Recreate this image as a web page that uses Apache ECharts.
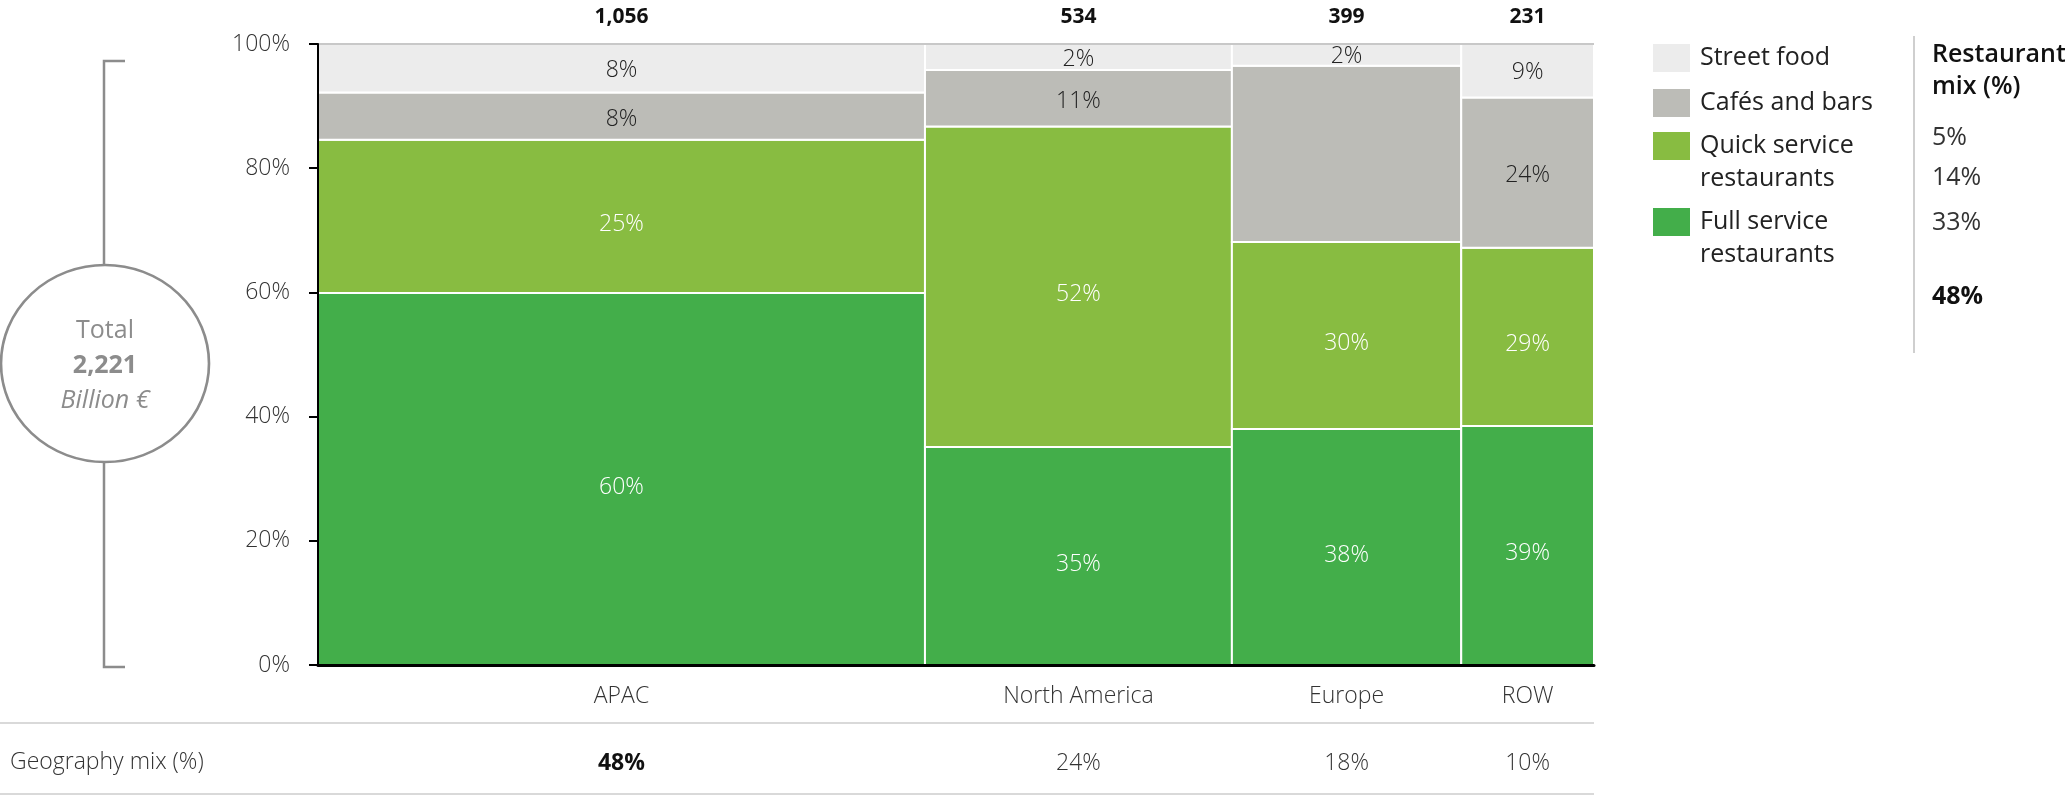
<!DOCTYPE html>
<html>
<head>
<meta charset="utf-8">
<script src="https://cdn.jsdelivr.net/npm/echarts@6/dist/echarts.min.js"></script>
<style>
html,body{margin:0;padding:0;background:#fff;}
#chart{width:2065px;height:795px;}
</style>
</head>
<body>
<div id="chart"></div>
<script>
// ---------- data ----------
const categories = ['APAC', 'North America', 'Europe', 'ROW'];
const totals = [1056, 534, 399, 231];           // billion €
const grandTotal = '2,221';
const geographyMix = [48, 24, 18, 10];           // %
const segmentNames = ['Full service restaurants', 'Quick service restaurants', 'Cafés and bars', 'Street food'];
const legendNames = ['Street food', 'Cafés and bars', 'Quick service\nrestaurants', 'Full service\nrestaurants'];
// segment shares (% of column) as drawn
const fullService  = [59.9, 35.1, 38.0, 38.5];
const quickService = [24.7, 51.6, 30.1, 28.7];
const cafesBars    = [7.6, 9.1, 28.4, 24.2];
const streetFood   = [7.8, 4.2, 3.5, 8.6];
// printed segment labels
const fullServiceLabel  = [60, 35, 38, 39];
const quickServiceLabel = [25, 52, 30, 29];
const cafesBarsLabel    = [8, 11, null, 24];
const streetFoodLabel   = [8, 2, 2, 9];
const restaurantMix = [5, 14, 33, 48];            // %
const yTicks = [0, 20, 40, 60, 80, 100];

// ---------- styling ----------
const FONT = '"Open Sans", "Noto Sans", sans-serif';
const segColors = ['#43ae4a', '#88bc41', '#bcbcb7', '#ececec'];
const segTextColors = ['#ffffff', '#ffffff', '#222222', '#222222'];
const segLabelShift = [8, 8, 3, 2];
const segHeights = [fullService, quickService, cafesBars, streetFood];
const segLabels = [fullServiceLabel, quickServiceLabel, cafesBarsLabel, streetFoodLabel];

const sumTotals = totals.reduce((a, b) => a + b, 0);
const colData = [];
let acc = 0;
totals.forEach((t, i) => { colData.push([acc, acc + t, i]); acc += t; });

const chart = echarts.init(document.getElementById('chart'), null, {renderer: 'canvas'});

function renderColumn(params, api) {
  const x0 = api.value(0), x1 = api.value(1), i = api.value(2);
  const children = [];
  let base = 0;
  for (let j = 0; j < 4; j++) {
    const h = segHeights[j][i];
    const top = Math.min(100, base + h);
    const pA = api.coord([x0, base]);
    const pB = api.coord([x1, top]);
    const lab = segLabels[j][i];
    const el = {
      type: 'rect',
      shape: {x: pA[0], y: pB[1], width: pB[0] - pA[0], height: pA[1] - pB[1]},
      style: {fill: segColors[j], stroke: '#ffffff', lineWidth: 2}
    };
    if (lab !== null && lab !== undefined) {
      el.textContent = {
        style: {text: lab + '%', fill: segTextColors[j], fontSize: 23, fontFamily: FONT, fontWeight: 300}
      };
      el.textConfig = {position: 'inside', offset: [0, segLabelShift[j]]};
    }
    children.push(el);
    base = top;
  }
  return {type: 'group', children: children};
}

function renderColumnText(params, api) {
  const x0 = api.value(0), x1 = api.value(1), i = api.value(2);
  const pTop = api.coord([(x0 + x1) / 2, 100]);
  const pBot = api.coord([(x0 + x1) / 2, 0]);
  const cx = pTop[0];
  return {
    type: 'group',
    children: [
      {type: 'text', x: cx, y: pTop[1] - 27, style: {text: totals[i].toLocaleString('en-US'), fill: '#111', fontSize: 21, fontWeight: 'bold', fontFamily: FONT, align: 'center', verticalAlign: 'middle'}},
      {type: 'text', x: cx, y: pBot[1] + 31, style: {text: categories[i], fill: '#333', fontSize: 23, fontWeight: 300, fontFamily: FONT, align: 'center', verticalAlign: 'middle'}},
      {type: 'text', x: cx, y: pBot[1] + 98, style: {text: geographyMix[i] + '%', fill: i === 0 ? '#111' : '#333', fontSize: 23, fontWeight: i === 0 ? 'bold' : 300, fontFamily: FONT, align: 'center', verticalAlign: 'middle'}}
    ]
  };
}

// legend + side panel graphics
const graphics = [];
const legendTops = [44, 89, 132, 208];
const legendColorIdx = [3, 2, 1, 0];
legendNames.forEach((n, k) => {
  graphics.push({type: 'rect', shape: {x: 1653, y: legendTops[k], width: 37, height: 28}, style: {fill: segColors[legendColorIdx[k]]}});
  graphics.push({type: 'text', x: 1700, y: legendTops[k] - 2.5, style: {text: n, fill: '#222', fontSize: 25, fontFamily: FONT, lineHeight: 33, verticalAlign: 'top', align: 'left'}});
});
graphics.push({type: 'line', shape: {x1: 1914, y1: 36, x2: 1914, y2: 353}, style: {stroke: '#cfcfcf', lineWidth: 2}});
graphics.push({type: 'text', x: 1932, y: 39, style: {text: 'Restaurant\nmix (%)', fill: '#111', fontSize: 25, fontWeight: 600, fontFamily: FONT, lineHeight: 32, verticalAlign: 'top', align: 'left'}});
const mixY = [138, 178, 223, 297];
restaurantMix.forEach((v, k) => {
  const bold = k === restaurantMix.length - 1;
  graphics.push({type: 'text', x: 1932, y: mixY[k], style: {text: v + '%', fill: bold ? '#111' : '#333', fontSize: 25, fontWeight: bold ? 'bold' : 'normal', fontFamily: FONT, verticalAlign: 'middle', align: 'left'}});
});
// bracket + total circle
graphics.push({type: 'polyline', shape: {points: [[125, 61], [104, 61], [104, 265]]}, style: {stroke: '#8c8c8c', lineWidth: 2.5, fill: null}});
graphics.push({type: 'polyline', shape: {points: [[104, 462], [104, 667], [125, 667]]}, style: {stroke: '#8c8c8c', lineWidth: 2.5, fill: null}});
graphics.push({type: 'circle', x: 105, y: 363.5, scaleX: 104 / 98.5, shape: {cx: 0, cy: 0, r: 98.5}, style: {stroke: '#8c8c8c', lineWidth: 2.5, fill: null, strokeNoScale: true}});
graphics.push({type: 'text', x: 105, y: 331, style: {text: 'Total', fill: '#8c8c8c', fontSize: 25, fontFamily: FONT, align: 'center', verticalAlign: 'middle'}});
graphics.push({type: 'text', x: 105, y: 366, style: {text: grandTotal, fill: '#8c8c8c', fontSize: 25, fontWeight: 'bold', fontFamily: FONT, align: 'center', verticalAlign: 'middle'}});
graphics.push({type: 'text', x: 105, y: 401, style: {text: 'Billion €', fill: '#8c8c8c', fontSize: 25, fontStyle: 'italic', fontFamily: FONT, align: 'center', verticalAlign: 'middle'}});
// geography mix row
graphics.push({type: 'line', shape: {x1: 0, y1: 723, x2: 1594, y2: 723}, style: {stroke: '#d9d9d9', lineWidth: 2}});
graphics.push({type: 'line', shape: {x1: 0, y1: 794, x2: 1594, y2: 794}, style: {stroke: '#d9d9d9', lineWidth: 2}});
graphics.push({type: 'text', x: 10, y: 762, style: {text: 'Geography mix (%)', fill: '#333', fontSize: 23, fontWeight: 300, fontFamily: FONT, align: 'left', verticalAlign: 'middle'}});

const option = {
  backgroundColor: '#ffffff',
  animation: false,
  grid: {left: 318, right: 471, top: 44, bottom: 130, containLabel: false, outerBoundsMode: 'none'},
  xAxis: {
    type: 'value', min: 0, max: sumTotals, z: 10,
    axisLine: {show: true, onZero: false, lineStyle: {color: '#000', width: 3}},
    axisTick: {show: false}, axisLabel: {show: false}, splitLine: {show: false}
  },
  yAxis: {
    type: 'value', min: yTicks[0], max: yTicks[yTicks.length - 1], interval: 20, z: 10,
    axisLine: {show: true, lineStyle: {color: '#000', width: 2}},
    axisTick: {show: true, length: 9, lineStyle: {color: '#000', width: 2}},
    axisLabel: {formatter: '{value}%', color: '#333', fontSize: 23, fontWeight: 300, fontFamily: FONT, margin: 28, padding: [4, 0, 0, 0]},
    splitLine: {show: false}
  },
  graphic: graphics,
  series: [
    {
      type: 'custom', name: 'columns', renderItem: renderColumn, data: colData,
      encode: {x: [0, 1]}, clip: false, silent: true,
      markLine: {silent: true, symbol: 'none', label: {show: false}, lineStyle: {color: '#c8c8c8', width: 2, type: 'solid'}, data: [{yAxis: 100}]}
    },
    {type: 'custom', name: 'columnText', renderItem: renderColumnText, data: colData, encode: {x: [0, 1]}, clip: false, silent: true}
  ]
};
chart.setOption(option);
</script>
</body>
</html>
